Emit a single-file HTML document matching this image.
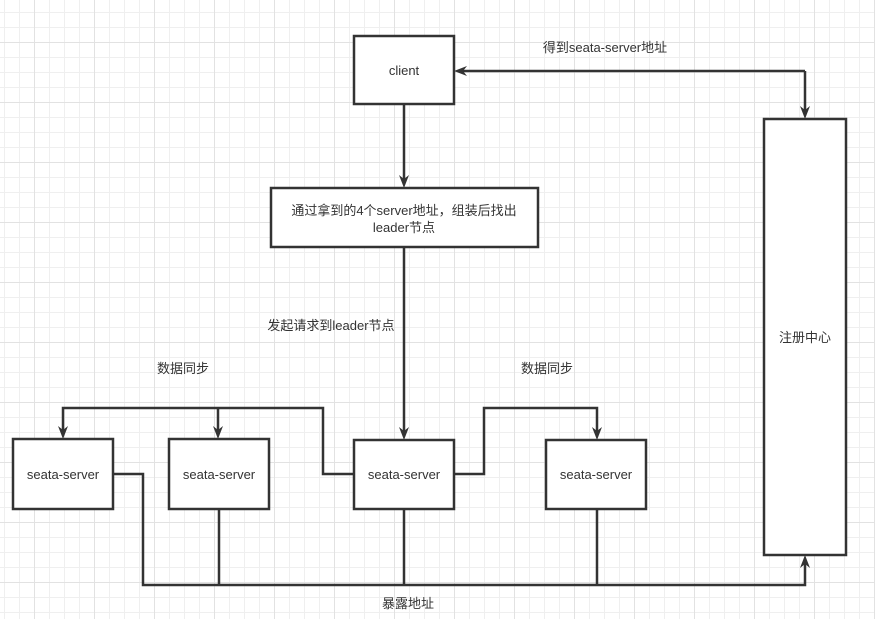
<!DOCTYPE html>
<html><head><meta charset="utf-8"><style>
html,body{margin:0;padding:0;background:#fff;}
svg{display:block;}
text{font-family:"Liberation Sans","Noto Sans CJK SC",sans-serif;font-size:13px;fill:#333;}
</style></head><body>
<svg width="875" height="619" viewBox="0 0 875 619" xmlns="http://www.w3.org/2000/svg">
<defs>
<pattern id="g" x="4" y="12" width="15" height="15" patternUnits="userSpaceOnUse">
<path d="M0.5 0V15M0 0.5H15" stroke="#efefef" stroke-width="1" fill="none"/>
</pattern>
<pattern id="G" x="34" y="42" width="60" height="60" patternUnits="userSpaceOnUse">
<path d="M0.5 0V60M0 0.5H60" stroke="#e2e2e2" stroke-width="1" fill="none"/>
</pattern>
</defs>
<rect width="875" height="619" fill="#fff"/>
<rect width="875" height="619" fill="url(#g)"/>
<rect width="875" height="619" fill="url(#G)"/>
<g stroke="#333" stroke-width="2.5" fill="none">
<path d="M404 104V180"/>
<path d="M404 247V432"/>
<path d="M805 71H462"/>
<path d="M805 71V111"/>
<path d="M354 474H323V408H63V431"/>
<path d="M218 408V431"/>
<path d="M454 474H484V408H597V432"/>
<path d="M113 474H143V585H805V563"/>
<path d="M219 509V585M404 509V585M597 509V585"/>
</g>
<g fill="#333">
<path d="M404 188L399 175L404 179L409 175Z"/>
<path d="M404 440L399 427L404 431L409 427Z"/>
<path d="M805 119L800 106L805 110L810 106Z"/>
<path d="M63 439L58 426L63 430L68 426Z"/>
<path d="M218 439L213 426L218 430L223 426Z"/>
<path d="M597 440L592 427L597 431L602 427Z"/>
<path d="M805 555L800 568L805 564L810 568Z"/>
<path d="M454 71L467 66L463 71L467 76Z"/>
</g>
<g stroke="#333" stroke-width="2.5" fill="#fff">
<rect x="354" y="36" width="100" height="68"/>
<rect x="271" y="188" width="267" height="59"/>
<rect x="764" y="119" width="82" height="436"/>
<rect x="13" y="439" width="100" height="70"/>
<rect x="169" y="439" width="100" height="70"/>
<rect x="354" y="440" width="100" height="69"/>
<rect x="546" y="440" width="100" height="69"/>
</g>
<g text-anchor="middle">
<text x="404" y="75">client</text>
<text x="404" y="215">通过拿到的4个server地址，组装后找出</text>
<text x="404" y="232">leader节点</text>
<text x="805" y="342">注册中心</text>
<text x="63" y="479">seata-server</text>
<text x="219" y="479">seata-server</text>
<text x="404" y="479">seata-server</text>
<text x="596" y="479">seata-server</text>
<text x="605" y="52">得到seata-server地址</text>
<text x="331" y="330">发起请求到leader节点</text>
<text x="183" y="373">数据同步</text>
<text x="547" y="373">数据同步</text>
<text x="408" y="608">暴露地址</text>
</g>
</svg>
</body></html>
